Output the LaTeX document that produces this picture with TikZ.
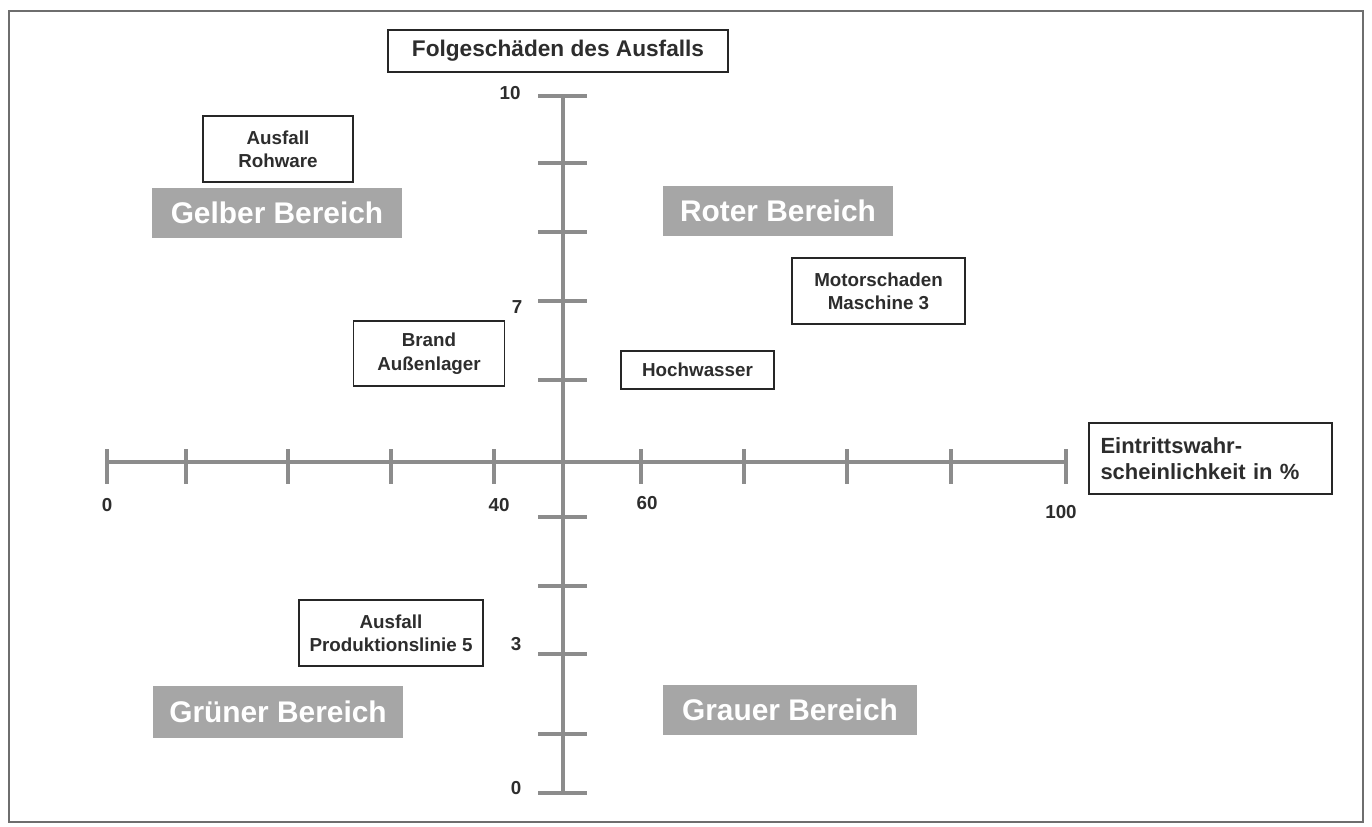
\documentclass[tikz,border=0pt]{standalone}
\usepackage{fontspec}
\setmainfont{Liberation Sans}
\definecolor{axisgray}{RGB}{140,140,140}
\definecolor{areagray}{RGB}{166,166,166}
\definecolor{textgray}{RGB}{45,45,45}
\definecolor{framegray}{RGB}{110,110,110}
\tikzset{
  box/.style={draw=black!85,line width=0.8pt,fill=white,align=center,inner sep=0pt,text=textgray,font=\bfseries\fontsize{10.7}{13.3}\selectfont},
  bigbox/.style={box,font=\bfseries\fontsize{12.9}{15.2}\selectfont},
  area/.style={fill=areagray,text=white,inner sep=0pt,font=\bfseries\fontsize{17}{20}\selectfont},
  axis/.style={draw=axisgray,line width=2.8pt},
  tick/.style={draw=axisgray,line width=2.5pt},
  num/.style={text=textgray,inner sep=0pt,font=\bfseries\fontsize{10.7}{13}\selectfont}
}
\begin{document}
\begin{tikzpicture}[x=0.02cm,y=-0.02cm]
\useasboundingbox (0,0) rectangle (1372,826);
\draw[framegray,line width=1.1pt] (9,11) rectangle (1363,822);

% axes
\coordinate (ytop) at (563,96);
\coordinate (ybot) at (563,793);
\coordinate (xleft) at (107,462);
\coordinate (xright) at (1066,462);
\draw[axis] (ybot) -- (ytop);
\draw[axis] (xleft) -- (xright);

% ticks of the damage axis
\draw[tick] (538,96) -- (587,96);
\draw[tick] (538,163) -- (587,163);
\draw[tick] (538,232) -- (587,232);
\draw[tick] (538,301) -- (587,301);
\draw[tick] (538,380) -- (587,380);
\draw[tick] (538,517) -- (587,517);
\draw[tick] (538,586) -- (587,586);
\draw[tick] (538,654) -- (587,654);
\draw[tick] (538,734) -- (587,734);
\draw[tick] (538,793) -- (587,793);

% ticks of the probability axis
\draw[tick] (107,449) -- (107,484);
\draw[tick] (186,449) -- (186,484);
\draw[tick] (288,449) -- (288,484);
\draw[tick] (391,449) -- (391,484);
\draw[tick] (494,449) -- (494,484);
\draw[tick] (641,449) -- (641,484);
\draw[tick] (744,449) -- (744,484);
\draw[tick] (847,449) -- (847,484);
\draw[tick] (951,449) -- (951,484);
\draw[tick] (1066,449) -- (1066,484);

\node[num] (y10) at (510,93) {10};
\node[num] (y7) at (517,307) {7};
\node[num] (y3) at (516,644) {3};
\node[num] (y0) at (516,788) {0};
\node[num] (x0) at (107,505) {0};
\node[num] (x40) at (499,505) {40};
\node[num] (x60) at (647,503) {60};
\node[num] (x100) at (1061,512) {100};

\node[bigbox,minimum width=6.8cm,minimum height=0.84cm] (ylab) at (558,51) {Folgeschäden des Ausfalls};
\node[bigbox,font=\bfseries\fontsize{12.5}{15.2}\selectfont,align=left,text width=4.4cm,inner xsep=0.23cm,minimum height=1.42cm] (xlab) at (1210.5,458.5) {Eintrittswahr-\\scheinlichkeit in \%};

\node[area,minimum width=5cm,minimum height=1cm] (gelb) at (277,213) {Gelber Bereich};
\node[area,minimum width=4.6cm,minimum height=1cm] (rot) at (778,211) {Roter Bereich};
\node[area,minimum width=5cm,minimum height=1.04cm] (gruen) at (278,712) {Grüner Bereich};
\node[area,minimum width=5.08cm,minimum height=1cm] (grau) at (790,710) {Grauer Bereich};

\node[box,minimum width=3cm,minimum height=1.32cm] (rohware) at (278,149) {Ausfall\\Rohware};
\node[box,minimum width=3.46cm,minimum height=1.32cm] (motor) at (878.5,291) {Motorschaden\\Maschine 3};
\node[box,minimum width=3.02cm,minimum height=1.3cm] (brand) at (429,353.5) {Brand\\Außenlager};
\node[box,minimum width=3.06cm,minimum height=0.76cm] (wasser) at (697.5,370) {Hochwasser};
\node[box,minimum width=3.68cm,minimum height=1.32cm] (linie) at (391,633) {Ausfall\\Produktionslinie 5};
\end{tikzpicture}
\end{document}
